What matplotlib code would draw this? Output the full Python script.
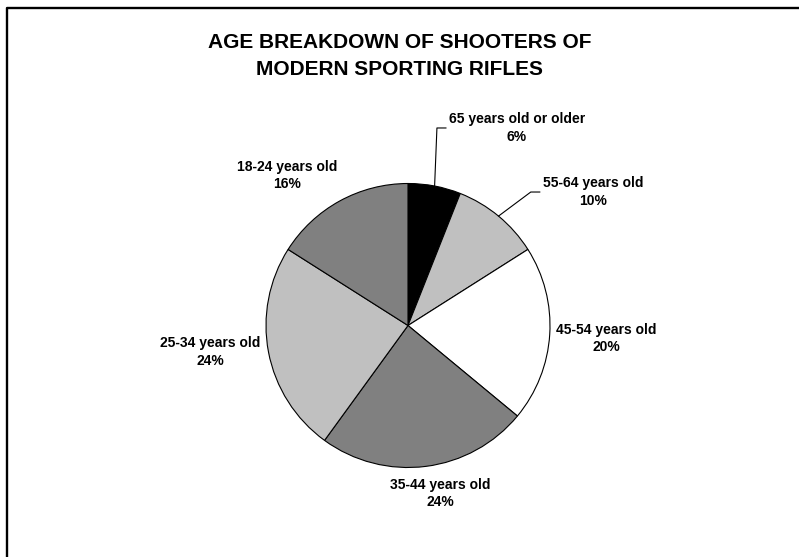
import matplotlib
matplotlib.use('Agg')
import matplotlib.pyplot as plt
from matplotlib.lines import Line2D
import numpy as np

plt.rcParams['font.family'] = ['Liberation Sans', 'DejaVu Sans']

# data
age_groups = ['65 years old or older', '55-64 years old', '45-54 years old',
              '35-44 years old', '25-34 years old', '18-24 years old']
shares = [6, 10, 20, 24, 24, 16]
colors = ['#000000', '#c0c0c0', '#ffffff', '#808080', '#c0c0c0', '#808080']
title = 'AGE BREAKDOWN OF SHOOTERS OF\nMODERN SPORTING RIFLES'

# layout (label centres, pie radius units)
label_pos = [(0.768, 1.391), (1.303, 0.940), (1.394, -0.092),
             (0.225, -1.183), (-1.394, -0.187), (-0.852, 1.056)]
leader = [True, True, False, False, False, False]

W, H = 799, 557
cx, cy, R = 408, 325.5, 142.0

fig = plt.figure(figsize=(W / 100, H / 100), dpi=100)
ax = fig.add_axes([0, 0, 1, 1])
ax.axis('off')

wedges, _ = ax.pie(shares, colors=colors, startangle=90, counterclock=False,
                   wedgeprops=dict(edgecolor='black', linewidth=0.8))
ax.set_xlim(-cx / R, (W - cx) / R)
ax.set_ylim(-(H - cy) / R, cy / R)
ax.set_aspect('auto')

texts = []
for name, val, (lx, ly) in zip(age_groups, shares, label_pos):
    t = ax.text(lx, ly, f'{name}\n{val}%', ha='center', va='center',
                fontsize=10, fontweight='bold', linespacing=1.3)
    texts.append(t)

fig.canvas.draw()
r = fig.canvas.get_renderer()
inv = ax.transData.inverted()
for w, t, (lx, ly), on in zip(wedges, texts, label_pos, leader):
    if not on:
        continue
    mid = np.deg2rad((w.theta1 + w.theta2) / 2)
    x0, y0 = np.cos(mid), np.sin(mid)
    bb = t.get_window_extent(r)
    left = inv.transform((bb.x0, 0))[0]
    x2 = left - 3 / R
    x1 = x2 - 9 / R
    ax.plot([x0, x1, x2], [y0, ly, ly], color='black', linewidth=0.8)

fig.text(0.5, 1 - 56 / H, title, ha='center', va='center', fontsize=15,
         fontweight='bold', linespacing=1.5)

# frame on top and left edges
fig.add_artist(Line2D([7 / W, 7 / W, 1], [0, 1 - 8 / H, 1 - 8 / H],
                      transform=fig.transFigure, color='black', linewidth=1.7))

fig.savefig('out.png', dpi=100)
